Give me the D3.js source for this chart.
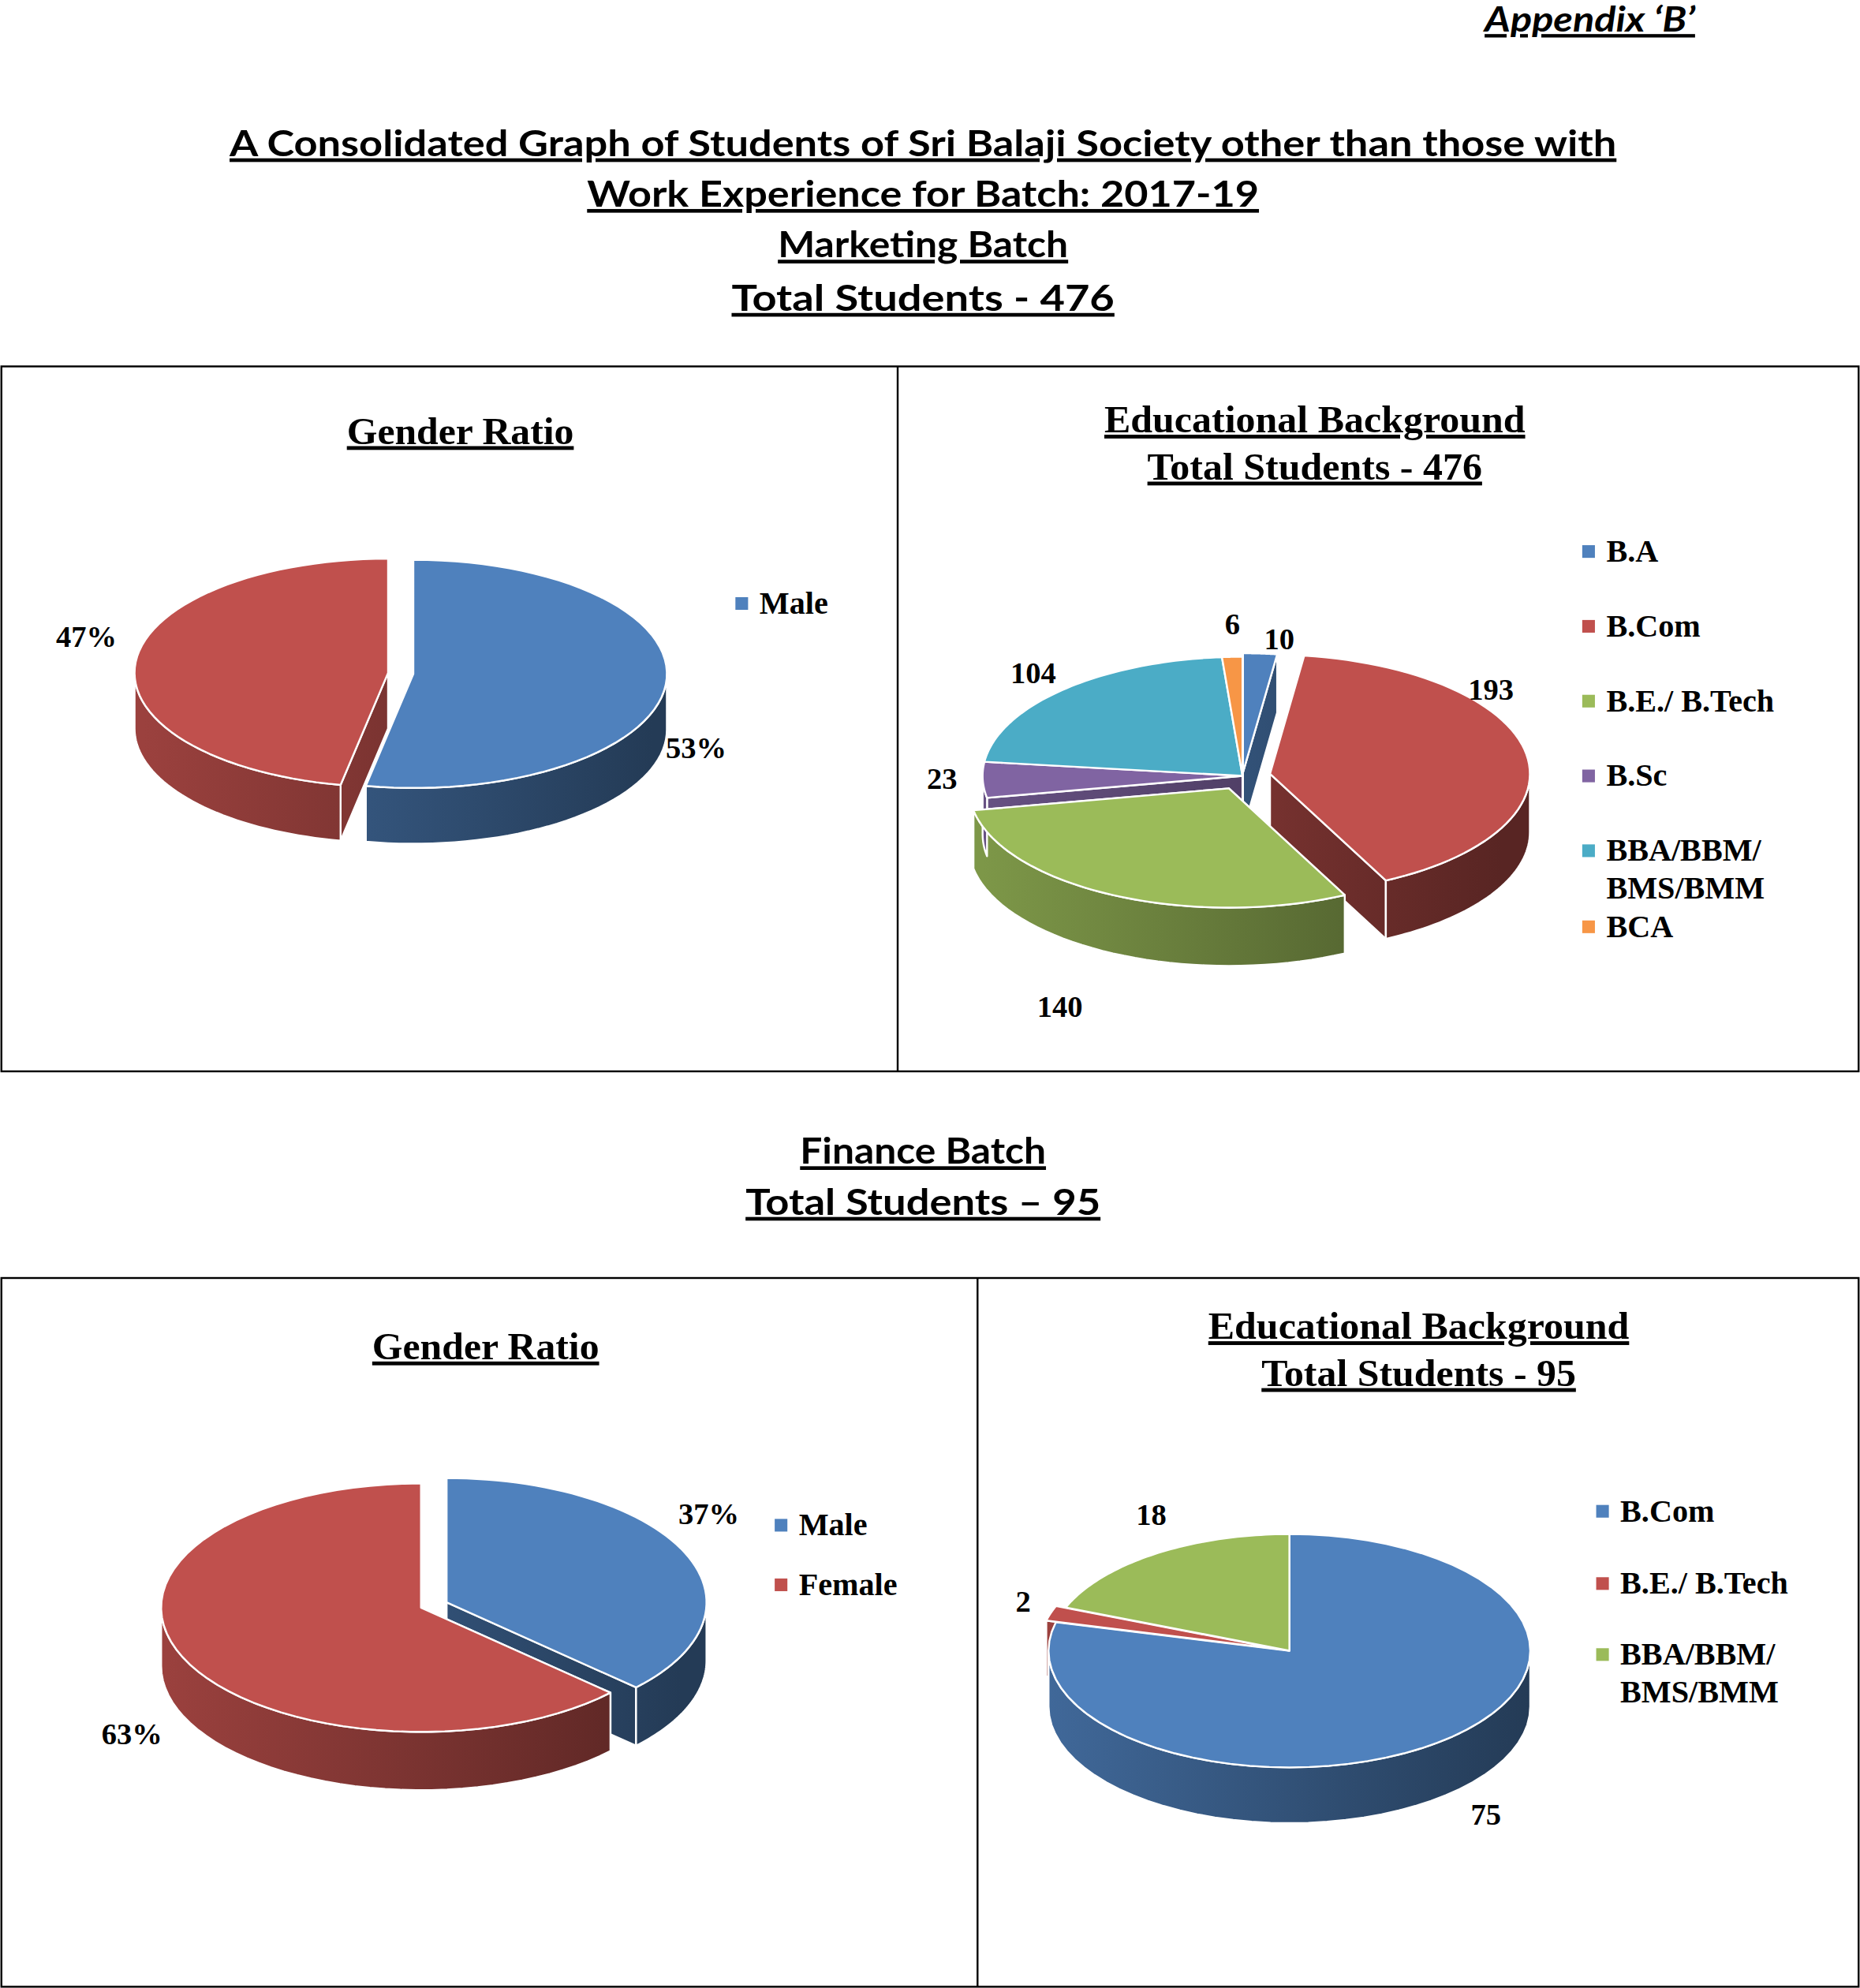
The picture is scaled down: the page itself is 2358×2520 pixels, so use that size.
<!DOCTYPE html>
<html><head><meta charset="utf-8">
<script src="https://cdn.jsdelivr.net/npm/d3@7"></script>
<style>body{margin:0;background:#fff}</style></head>
<body><svg id="c" width="2358" height="2520" viewBox="0 0 1467 1568"></svg>
<script>
const mktGenderLabels = ["Male","Female"];
const mktGenderValues = [53,47];
const mktEduLabels = ["B.A","B.Com","B.E./ B.Tech","B.Sc","BBA/BBM/\nBMS/BMM","BCA"];
const mktEduValues = [10,193,140,23,104,6];
const finGenderLabels = ["Male","Female"];
const finGenderValues = [37,63];
const finEduLabels = ["B.Com","B.E./ B.Tech","BBA/BBM/\nBMS/BMM"];
const finEduValues = [75,2,18];

const COL = {blue:"#4f81bd",red:"#c0504d",green:"#9bbb59",purple:"#8064a2",teal:"#4bacc6",orange:"#f79646"};
const svg = d3.select("#c");
const defs = svg.append("defs");
svg.append("rect").attr("width",1467).attr("height",1568).attr("fill","#fff");

function title(x,y,t,size,font,italic,len){
  const el=svg.append("text").attr("x",x).attr("y",y).attr("text-anchor","middle")
    .attr("font-family",font).attr("font-weight","bold").attr("font-style",italic?"italic":"normal")
    .attr("font-size",size).attr("text-decoration","underline").text(t);
  if(len) el.attr("textLength",len).attr("lengthAdjust","spacingAndGlyphs");
}
const TF = "Lato";
title(1254,25,"Appendix ‘B’",27,TF,true,166);
title(728,123,"A Consolidated Graph of Students of Sri Balaji Society other than those with",29,TF,false,1094);
title(728,163,"Work Experience for Batch: 2017-19",29,TF,false,530);
title(728,203,"Marketing Batch",29,TF,false,229);
title(728,245,"Total Students  - 476",29,TF,false,302);
title(728,918,"Finance Batch",29,TF,false,194);
title(728,958,"Total Students  – 95",29,TF,false,280);

function box(x0,y0,x1,y1,xd){
  svg.append("rect").attr("x",x0).attr("y",y0).attr("width",x1-x0).attr("height",y1-y0).attr("fill","none").attr("stroke","#000").attr("stroke-width",1.5);
  svg.append("line").attr("x1",xd).attr("x2",xd).attr("y1",y0).attr("y2",y1).attr("stroke","#000").attr("stroke-width",1.5);
}
box(1,289,1466,845,708);
box(1,1008,1466,1567,771);

const SF = "Liberation Serif";
title(363,350,"Gender Ratio",30,SF,false,179);
title(1037,341,"Educational Background",30,SF,false,332);
title(1037,378,"Total Students - 476",30,SF,false,264);
title(383,1072,"Gender Ratio",30,SF,false,179);
title(1119,1056,"Educational Background",30,SF,false,332);
title(1119,1093,"Total Students - 95",30,SF,false,248);

let gid=0;
function pie3d(cx,cy,rx,ry,depth,values,colors,explode){
  const arcs = d3.pie().sort(null).value(d=>d)(values);
  const g = svg.append("g");
  const sides=[], tops=[];
  arcs.forEach((a,i)=>{
    const mid=(a.startAngle+a.endAngle)/2, e=explode[i]||0;
    const ox=cx+e*Math.sin(mid), oy=cy-e*Math.cos(mid)*ry/rx;
    const P=(t,d)=>[ox+rx*Math.sin(t), oy-ry*Math.cos(t)+(d||0)];
    const c=d3.color(colors[i]);
    const id="gr"+(gid++);
    const lg=defs.append("linearGradient").attr("id",id).attr("gradientUnits","userSpaceOnUse")
      .attr("x1",cx-rx).attr("x2",cx+rx).attr("y1",0).attr("y2",0);
    lg.append("stop").attr("offset",0).attr("stop-color",c.darker(0.6));
    lg.append("stop").attr("offset",1).attr("stop-color",c.darker(2.2));
    const fill="url(#"+id+")";
    [a.startAngle,a.endAngle].forEach(t=>{
      const p=P(t);
      const pts=[[ox,oy],p,[p[0],p[1]+depth],[ox,oy+depth]];
      sides.push({d:"M"+pts.join("L")+"Z",fill,z:(oy+p[1])/2});
    });
    const lo=Math.max(a.startAngle,Math.PI/2), hi=Math.min(a.endAngle,3*Math.PI/2);
    if(hi>lo){
      const top=d3.range(41).map(k=>P(lo+(hi-lo)*k/40));
      const bot=top.map(p=>[p[0],p[1]+depth]).reverse();
      sides.push({d:"M"+top.concat(bot).join("L")+"Z",fill,z:1e6});
    }
    const tp=[[ox,oy]].concat(d3.range(61).map(k=>P(a.startAngle+(a.endAngle-a.startAngle)*k/60)));
    tops.push({d:"M"+tp.join("L")+"Z",fill:colors[i]});
  });
  sides.sort((p,q)=>p.z-q.z);
  sides.concat(tops).forEach(s=>g.append("path").attr("d",s.d).attr("fill",s.fill).attr("stroke","#fff").attr("stroke-width",1.5).attr("stroke-linejoin","round"));
}
function lbl(x,y,t){svg.append("text").attr("x",x).attr("y",y).attr("text-anchor","middle").attr("font-family",SF).attr("font-weight","bold").attr("font-size",24).text(t);}
function legend(x,ys,labels,colors){
  labels.forEach((l,i)=>{
    svg.append("rect").attr("x",x).attr("y",ys[i]-13).attr("width",10).attr("height",10).attr("fill",colors[i]);
    l.split("\n").forEach((s,j)=>svg.append("text").attr("x",x+19).attr("y",ys[i]+j*30).attr("font-family",SF).attr("font-weight","bold").attr("font-size",25).text(s));
  });
}

pie3d(314,531,200,90,44,mktGenderValues,[COL.blue,COL.red],[12,8]);
lbl(68,510,mktGenderValues[1]+"%"); lbl(549,598,mktGenderValues[0]+"%");
legend(580,[484],[mktGenderLabels[0]],[COL.blue]);

const eduC=[COL.blue,COL.red,COL.green,COL.purple,COL.teal,COL.orange];
pie3d(980,612,205,94,46,mktEduValues,eduC,[6,22,24,0,0,0]);
lbl(1009,512,mktEduValues[0]);lbl(1176,552,mktEduValues[1]);lbl(836,802,mktEduValues[2]);
lbl(743,622,mktEduValues[3]);lbl(815,539,mktEduValues[4]);lbl(972,500,mktEduValues[5]);
legend(1248,[443,502,561,620,679,739],mktEduLabels,eduC);

pie3d(332,1268,205,98,46,finGenderValues,[COL.blue,COL.red],[22,0]);
lbl(559,1202,finGenderValues[0]+"%"); lbl(104,1376,finGenderValues[1]+"%");
legend(611,[1211,1258],finGenderLabels,[COL.blue,COL.red]);

pie3d(1017,1302,190,92,44,finEduValues,[COL.blue,COL.red,COL.green],[0,8,0]);
lbl(1172,1439,finEduValues[0]);lbl(807,1271,finEduValues[1]);lbl(908,1203,finEduValues[2]);
legend(1259,[1200,1257,1313],finEduLabels,[COL.blue,COL.red,COL.green]);
</script></body></html>
